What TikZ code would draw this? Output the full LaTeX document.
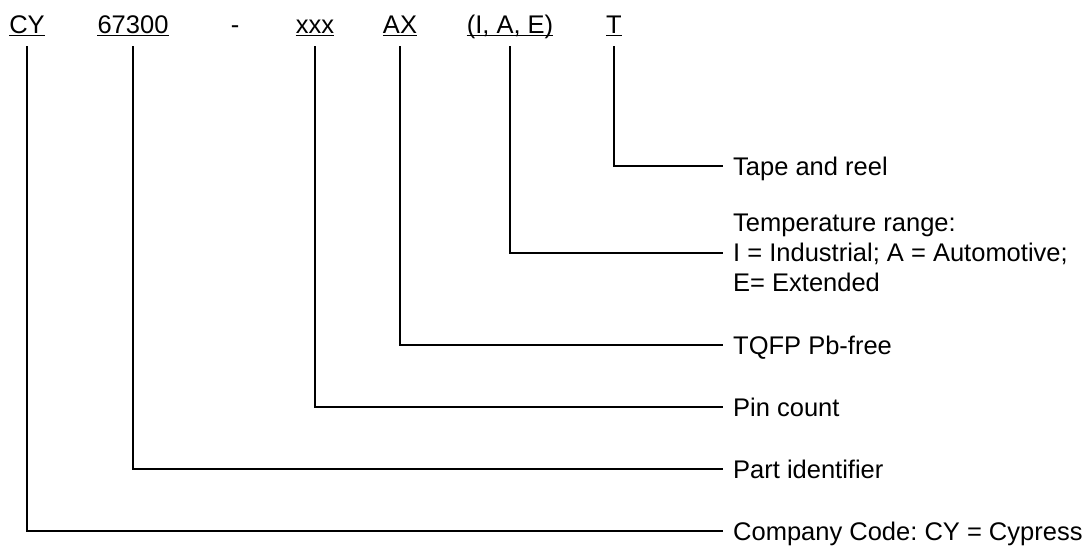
\documentclass[tikz,border=0pt]{standalone}
\usepackage{fontspec}
\setmainfont{Liberation Sans}
\frenchspacing
\begin{document}
\begin{tikzpicture}[x=1pt,y=-1pt,
  code/.style={anchor=base,inner sep=0pt,font=\fontsize{25.5}{30}\selectfont},
  desc/.style={anchor=west,inner sep=0pt,text height=18pt,text depth=0pt,font=\fontsize{25.5}{30}\selectfont},
  multi/.style={anchor=west,inner sep=0pt,align=left,font=\fontsize{25.5}{30}\selectfont},
  link/.style={line width=2pt,line join=miter},
  uline/.style={line width=1.5pt}]
\useasboundingbox (0,0) rectangle (1084,547);
\fill[white] (0,0) rectangle (1084,547);
% part-number fields
\node[code] (cy)   at (27,33)  {CY};
\node[code] (pid)  at (133,33) {67300};
\node[code] (dash) at (235,33) {-};
\node[code] (pins) at (315,33) {xxx};
\node[code] (pkg)  at (400,33) {AX};
\node[code] (temp) at (510,33) {(I, A, E)};
\node[code] (tr)   at (614,33) {T};
\foreach \n in {cy,pid,pins,pkg,temp,tr}
  \draw[uline] ([yshift=-2.5pt]\n.base west) -- ([yshift=-2.5pt]\n.base east);
% descriptions
\node[desc]  (dtr)   at (733,166) {Tape and reel};
\node[multi] (dtemp) at (733,253) {Temperature range:\\I = Industrial; A = Automotive;\\E= Extended};
\node[desc]  (dpkg)  at (733,345) {TQFP Pb-free};
\node[desc]  (dpins) at (733,407) {Pin count};
\node[desc]  (dpid)  at (733,469) {Part identifier};
\node[desc]  (dcy)   at (733,531) {Company Code: CY = Cypress};
% connectors
\draw[link] ([yshift=-13pt]tr.base)   |- ([xshift=-10pt]dtr.west);
\draw[link] ([yshift=-13pt]temp.base) |- ([xshift=-10pt]dtemp.west);
\draw[link] ([yshift=-13pt]pkg.base)  |- ([xshift=-10pt]dpkg.west);
\draw[link] ([yshift=-13pt]pins.base) |- ([xshift=-10pt]dpins.west);
\draw[link] ([yshift=-13pt]pid.base)  |- ([xshift=-10pt]dpid.west);
\draw[link] ([yshift=-13pt]cy.base)   |- ([xshift=-10pt]dcy.west);
\end{tikzpicture}
\end{document}
